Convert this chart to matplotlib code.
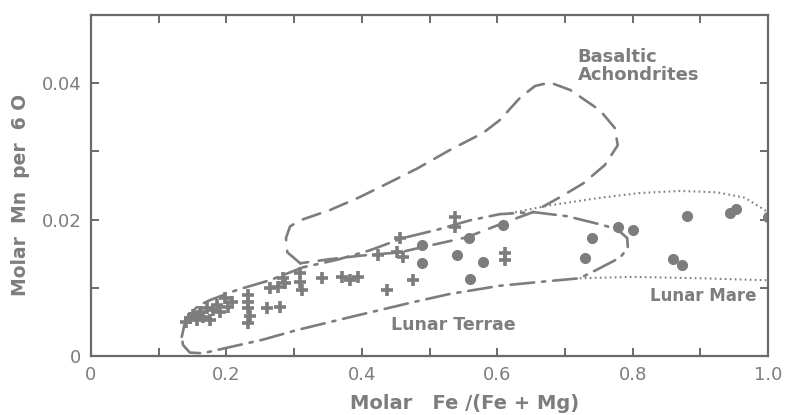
import matplotlib
matplotlib.use("Agg")
import matplotlib.pyplot as plt
from matplotlib.ticker import MultipleLocator

# Lunar terrae analyses (plus symbols)
terrae_x = [0.140, 0.146, 0.151, 0.157, 0.161, 0.165, 0.171, 0.176, 0.180, 0.186, 0.191, 0.198,
            0.202, 0.208, 0.232, 0.232, 0.232, 0.235, 0.232, 0.260, 0.279, 0.264, 0.276, 0.287,
            0.284, 0.309, 0.309, 0.312, 0.341, 0.371, 0.383, 0.394, 0.437, 0.476, 0.424, 0.452,
            0.456, 0.461, 0.538, 0.538, 0.612, 0.612]
terrae_y = [0.0050, 0.0056, 0.0060, 0.0053, 0.0064, 0.0057, 0.0070, 0.0053, 0.0067, 0.0075, 0.0064, 0.0085,
            0.0072, 0.0079, 0.0089, 0.0079, 0.0070, 0.0059, 0.0048, 0.0070, 0.0072, 0.0100, 0.0101, 0.0107,
            0.0114, 0.0122, 0.0108, 0.0097, 0.0114, 0.0116, 0.0111, 0.0116, 0.0097, 0.0111, 0.0148, 0.0152,
            0.0173, 0.0145, 0.0204, 0.0189, 0.0151, 0.0141]

# Lunar mare analyses (filled circles)
mare_x = [0.489, 0.489, 0.541, 0.558, 0.579, 0.560, 0.609, 0.740, 0.730, 0.778, 0.801,
          0.880, 0.860, 0.873, 0.944, 0.953, 1.000]
mare_y = [0.0163, 0.0136, 0.0148, 0.0173, 0.0138, 0.0113, 0.0192, 0.0173, 0.0144, 0.0189, 0.0185,
          0.0205, 0.0142, 0.0133, 0.0210, 0.0216, 0.0204]

# Field outlines
achon_x = [0.309, 0.290, 0.288, 0.294, 0.309, 0.353, 0.397, 0.442, 0.482, 0.530, 0.579, 0.604,
           0.634, 0.656, 0.678, 0.708, 0.752, 0.774, 0.778, 0.759, 0.727, 0.693, 0.653, 0.604,
           0.555, 0.505, 0.456, 0.397, 0.353, 0.309]
achon_y = [0.0136, 0.0152, 0.0173, 0.0190, 0.0199, 0.0214, 0.0233, 0.0255, 0.0275, 0.0302, 0.0327, 0.0346,
           0.0379, 0.0396, 0.0401, 0.0390, 0.0360, 0.0334, 0.0309, 0.0280, 0.0253, 0.0233, 0.0211, 0.0193,
           0.0174, 0.0163, 0.0152, 0.0147, 0.0142, 0.0136]

terr_x = [0.134, 0.139, 0.146, 0.161, 0.176, 0.216, 0.264, 0.313, 0.363, 0.412, 0.461, 0.511,
          0.560, 0.604, 0.653, 0.703, 0.752, 0.777, 0.792, 0.793, 0.781, 0.752, 0.722, 0.678,
          0.604, 0.530, 0.476, 0.387, 0.304, 0.254, 0.205, 0.165, 0.146, 0.136, 0.134]
terr_y = [0.0028, 0.0050, 0.0063, 0.0075, 0.0082, 0.0097, 0.0111, 0.0130, 0.0141, 0.0155, 0.0173, 0.0185,
          0.0199, 0.0208, 0.0211, 0.0205, 0.0193, 0.0186, 0.0173, 0.0158, 0.0144, 0.0129, 0.0114, 0.0110,
          0.0103, 0.0091, 0.0079, 0.0058, 0.0038, 0.0024, 0.0013, 0.0004, 0.0005, 0.0016, 0.0028]

mare_top_x = [0.612, 0.678, 0.752, 0.811, 0.870, 0.925, 0.966, 1.000]
mare_top_y = [0.0208, 0.0221, 0.0232, 0.0239, 0.0242, 0.0240, 0.0232, 0.0211]
mare_bot_x = [0.722, 0.801, 0.900, 1.000]
mare_bot_y = [0.0114, 0.0116, 0.0114, 0.0111]

xticks = [0, 0.2, 0.4, 0.6, 0.8, 1.0]
xticklabels = ["0", "0.2", "0.4", "0.6", "0.8", "1.0"]
yticks = [0, 0.02, 0.04]
yticklabels = ["0", "0.02", "0.04"]

GREY = "#7d7d7d"
DARK = "#6a6a6a"

plt.rcParams['font.family'] = ['DejaVu Sans']
fig = plt.figure(figsize=(7.96, 4.15), dpi=100)
ax = fig.add_axes([91/796, 1-356/415, 677/796, 341/415])
ax.set_xlim(0, 1.0)
ax.set_ylim(0, 0.05)

ax.plot(achon_x, achon_y, color=GREY, lw=1.9, dashes=(7, 4), dash_capstyle='round')
ax.plot(terr_x, terr_y, color=GREY, lw=1.9, dashes=(9, 3, 1.2, 3), dash_capstyle='round')
ax.plot(mare_top_x, mare_top_y, color=GREY, lw=1.5, dashes=(0.8, 1.6))
ax.plot(mare_bot_x, mare_bot_y, color=GREY, lw=1.5, dashes=(0.8, 1.6))

ax.plot(terrae_x, terrae_y, linestyle='none', marker='+', ms=9, mew=2.6, color=GREY)
ax.plot(mare_x, mare_y, linestyle='none', marker='o', ms=7, color=GREY, mec=GREY)

ax.text(0.719, 0.0425, "Basaltic\nAchondrites", fontsize=13, color=GREY, ha='left', va='center',
        fontweight='bold', linespacing=1.05)
ax.text(0.535, 0.0045, "Lunar Terrae", fontsize=12.5, color=GREY, ha='center', va='center', fontweight='bold')
ax.text(0.904, 0.0088, "Lunar Mare", fontsize=12, color=GREY, ha='center', va='center', fontweight='bold')

for s in ax.spines.values():
    s.set_color(DARK)
    s.set_linewidth(1.6)

ax.set_xticks(xticks)
ax.set_xticklabels(xticklabels)
ax.set_yticks(yticks)
ax.set_yticklabels(yticklabels)
ax.xaxis.set_minor_locator(MultipleLocator(0.1))
ax.yaxis.set_minor_locator(MultipleLocator(0.01))
ax.tick_params(which='both', direction='in', top=True, right=True, color=DARK, width=1.4)
ax.tick_params(which='major', length=6, labelsize=13, labelcolor=GREY, pad=7)
ax.tick_params(which='minor', length=6)

fig.text(465/796, 1-403/415, "Molar   Fe /(Fe + Mg)", fontsize=14, color=GREY, ha='center', va='center',
         fontweight='bold')
fig.text(21/796, 1-195/415, "Molar  Mn  per  6 O", fontsize=13.5, color=GREY, ha='center', va='center',
         rotation=90, fontweight='bold')

fig.savefig("out.png", dpi=100)
